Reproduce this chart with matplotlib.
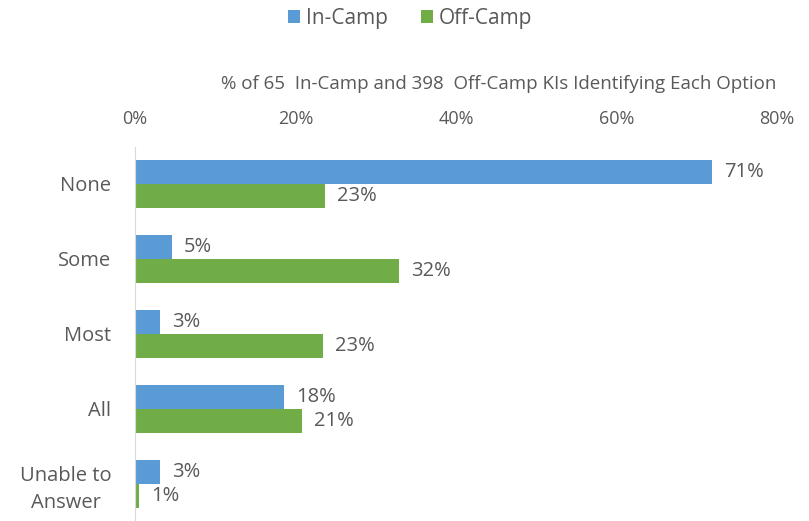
import numpy as np
import matplotlib.pyplot as plt

plt.rcParams['font.family'] = ['Open Sans', 'DejaVu Sans']

categories = ['None', 'Some', 'Most', 'All', 'Unable to\nAnswer']
in_camp = [71.9, 4.6, 3.1, 18.6, 3.1]
off_camp = [23.7, 32.9, 23.4, 20.8, 0.5]
in_labels = ['71%', '5%', '3%', '18%', '3%']
off_labels = ['23%', '32%', '23%', '21%', '1%']

blue = '#5B9BD5'
green = '#70AD47'
grey = '#595959'

fig = plt.figure(figsize=(8.09, 5.21), dpi=100)
ax = fig.add_axes([0.1669, 0.0, 0.7935, 0.7188])

y = np.arange(len(categories))
h = 0.32
b1 = ax.barh(y - h / 2, in_camp, h, color=blue, label='In-Camp')
b2 = ax.barh(y + h / 2, off_camp, h, color=green, label='Off-Camp')

for bar, lab in zip(b1, in_labels):
    ax.text(bar.get_width() + 1.5, bar.get_y() + bar.get_height() / 2, lab,
            va='center', ha='left', fontsize=14.5, color=grey)
for bar, lab in zip(b2, off_labels):
    ax.text(bar.get_width() + 1.5, bar.get_y() + bar.get_height() / 2, lab,
            va='center', ha='left', fontsize=14.5, color=grey)

ax.set_xlim(0, 80)
ax.set_ylim(4.5, -0.5)
ax.set_yticks(y)
ax.set_yticklabels(categories, fontsize=14.5, color=grey, multialignment='center',
                   linespacing=1.45)
ax.set_xticks(np.arange(0, 81, 20))
ax.set_xticklabels(['%d%%' % v for v in range(0, 81, 20)], fontsize=13, color=grey)
ax.xaxis.tick_top()
ax.tick_params(axis='both', length=0)
ax.tick_params(axis='x', pad=13)
ax.tick_params(axis='y', pad=17)

for s in ['top', 'right', 'bottom']:
    ax.spines[s].set_visible(False)
ax.spines['left'].set_color('#D9D9D9')

fig.text(0.617, 0.838, '% of 65  In-Camp and 398  Off-Camp KIs Identifying Each Option',
         ha='center', va='center', fontsize=13.5, color=grey)

fig.legend(handles=[b1, b2], loc='center', bbox_to_anchor=(0.507, 0.965), ncol=2,
           frameon=False, fontsize=15, labelcolor=grey, handlelength=0.55, handleheight=0.55,
           handletextpad=0.3, columnspacing=1.6)

fig.savefig('out.png', dpi=100)
